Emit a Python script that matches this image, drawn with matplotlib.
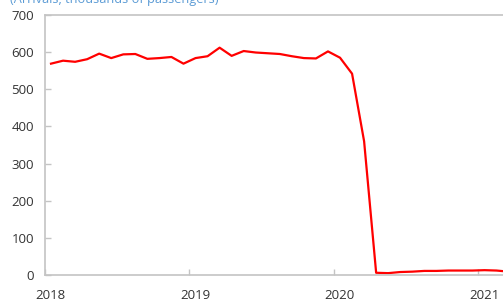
import matplotlib.pyplot as plt
from matplotlib.transforms import ScaledTranslation

plt.rcParams['font.family'] = ['Open Sans', 'DejaVu Sans']

# monthly arrivals, thousands of passengers (Jan 2018 - Mar 2021)
months = ['2018-01', '2018-02', '2018-03', '2018-04', '2018-05', '2018-06',
          '2018-07', '2018-08', '2018-09', '2018-10', '2018-11', '2018-12',
          '2019-01', '2019-02', '2019-03', '2019-04', '2019-05', '2019-06',
          '2019-07', '2019-08', '2019-09', '2019-10', '2019-11', '2019-12',
          '2020-01', '2020-02', '2020-03', '2020-04', '2020-05', '2020-06',
          '2020-07', '2020-08', '2020-09', '2020-10', '2020-11', '2020-12',
          '2021-01', '2021-02', '2021-03']
arrivals = [569, 577, 574, 581, 596, 584, 594, 595, 582, 584, 587, 569,
            584, 589, 612, 590, 603, 599, 597, 595, 589, 584, 583, 602,
            585, 542, 360, 6, 5, 8, 9, 11, 11, 12, 12, 12,
            13, 12, 9]
year_ticks = [2018, 2019, 2020, 2021]
y_ticks = [0, 100, 200, 300, 400, 500, 600, 700]

# place each month at its midpoint, as fractional years
x = [int(m[:4]) + (int(m[5:]) - 0.5) / 12 for m in months]

fig = plt.figure(figsize=(5.03, 3.02), dpi=100)
ax = fig.add_axes([45 / 503, 27 / 302, 458 / 503, 260 / 302])

ax.plot(x, arrivals, color='#ff0000', lw=1.6, solid_joinstyle='round')

ax.set_xlim(2018, 2018 + 458 / 144.5)
ax.set_ylim(0, 700)
ax.set_xticks(year_ticks)
ax.set_yticks(y_ticks)

for side in ['left', 'bottom', 'top']:
    ax.spines[side].set_color('#c4c4c4')
    ax.spines[side].set_linewidth(1.2)
ax.spines['right'].set_visible(False)

ax.tick_params(axis='both', direction='in', length=4, width=1, color='#c4c4c4',
               labelsize=9.5, labelcolor='#333333')
ax.tick_params(axis='x', pad=10)
ax.tick_params(axis='y', pad=8)

# year labels sit a little right of their tick
shift = ScaledTranslation(5.5 / 100, 0, fig.dpi_scale_trans)
for lbl in ax.get_xticklabels():
    lbl.set_transform(lbl.get_transform() + shift)

fig.text(10 / 503, 1 - 3.5 / 302, '(Arrivals, thousands of passengers)',
         color='#5b9bd5', fontsize=9.2, ha='left', va='baseline')

plt.savefig('out.png', dpi=100)
